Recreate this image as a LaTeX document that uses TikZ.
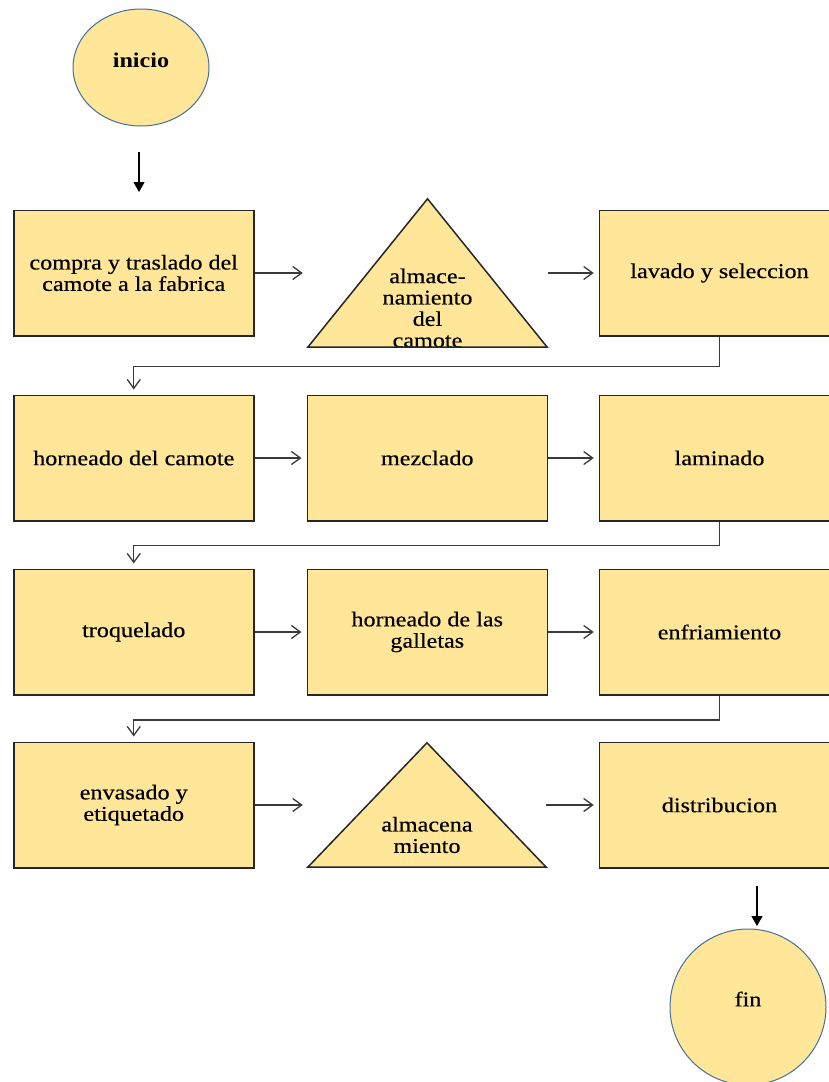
\documentclass[tikz,border=0pt]{standalone}
\usepackage{fontspec}
\setmainfont{Liberation Serif}[FakeStretch=1.15, UprightFeatures={FakeBold=0.4}]
\usetikzlibrary{arrows.meta,shapes.geometric}
\definecolor{boxfill}{HTML}{FFE699}
\definecolor{boxline}{HTML}{262626}
\definecolor{ovalline}{HTML}{41719C}
\definecolor{wire}{HTML}{3A3A3A}

\begin{document}
\begin{tikzpicture}[x=1pt,y=-1pt,
  every node/.style={font=\fontsize{21}{21.4}\selectfont},
  stepbox/.style={rectangle, draw=boxline, fill=boxfill, line width=1.5pt,
    minimum width=240pt, minimum height=125.5pt, align=center, inner sep=0pt},
  storearea/.style={rectangle, inner sep=0pt, minimum width=239pt},
  storefill/.style={fill=boxfill},
  storeline/.style={draw=boxline, line width=1.5pt, line join=miter},
  terminal/.style={draw=ovalline, fill=boxfill, line width=1pt, inner sep=0pt},
  flow/.style={draw=wire, line width=1.3pt, -{Straight Barb[length=9pt,width=13pt]}, shorten >=5pt},
  lead/.style={draw=black, line width=1.3pt, -{Triangle[length=10pt,width=11pt]}},
]
\useasboundingbox (0,0) rectangle (829,1082);
\clip (0,0) rectangle (829,1082);

% start and end terminals
\node[terminal, ellipse, minimum width=136pt, minimum height=117pt] (inicio) at (141,67.5) {};
\node[font=\fontsize{21}{21.4}\selectfont\bfseries] (iniciotxt) at ([yshift=7pt]inicio.center) {inicio};
\node[terminal, circle, minimum size=156pt] (fin) at (748,1007) {};
\node (fintxt) at ([yshift=8pt]fin.center) {fin};

% row 1
\node[stepbox] (b1) at (133.75,273) {compra y traslado del\\camote a la fabrica};
\node[storearea, minimum height=148pt] (t1) at (427.5,273) {};
\node[stepbox] (lv) at (719.5,273) {lavado y seleccion};

% row 2
\node[stepbox] (hc) at (133.75,458) {horneado del camote};
\node[stepbox] (mz) at (427.25,458) {mezclado};
\node[stepbox] (lm) at (719.5,458) {laminado};

% row 3
\node[stepbox] (tq) at (133.75,632) {troquelado};
\node[stepbox] (hg) at (427.25,632) {horneado de las\\galletas};
\node[stepbox] (ef) at (719.5,632) {enfriamiento};

% row 4
\node[stepbox] (ev) at (133.75,805) {envasado y\\etiquetado};
\node[storearea, minimum height=124pt, minimum width=238pt] (t2) at (427,805) {};
\node[stepbox] (ds) at (719.5,805) {distribucion};

% storage triangles
\fill[storefill] (t1.north) -- (t1.south east) -- (t1.south west) -- cycle;
\begin{scope}
  \clip (t1.north) -- (t1.south east) -- (t1.south west) -- cycle;
  \node[align=center] (t1txt) at (427.5,308) {almace-\\namiento\\del\\camote};
\end{scope}
\draw[storeline] (t1.north) -- (t1.south east) -- (t1.south west) -- cycle;

\fill[storefill] (t2.north) -- (t2.south east) -- (t2.south west) -- cycle;
\node[align=center] (t2txt) at (427,835) {almacena\\miento};
\draw[storeline] (t2.north) -- (t2.south east) -- (t2.south west) -- cycle;

% start and end leads
\coordinate (inA) at (139,152);
\coordinate (inB) at (139,192);
\draw[lead] (inA) -- (inB);
\coordinate (fnA) at (757,886);
\coordinate (fnB) at (757,926);
\draw[lead] (fnA) -- (fnB);

% horizontal flow
\draw[flow] (b1.east) -- (t1.west);
\draw[flow, shorten <=1pt] (t1.east) -- (lv.west);
\draw[flow] (hc.east) -- (mz.west);
\draw[flow] (mz.east) -- (lm.west);
\draw[flow] (tq.east) -- (hg.west);
\draw[flow] (hg.east) -- (ef.west);
\draw[flow] (ev.east) -- (t2.west);
\draw[flow] (t2.east) -- (ds.west);

% row returns
\draw[flow] (lv.south) -- ++(0,30) -| (hc.north);
\draw[flow] (lm.south) -- ++(0,24) -| (tq.north);
\draw[flow] (ef.south) -- ++(0,24.5) -| (ev.north);
\end{tikzpicture}
\end{document}
